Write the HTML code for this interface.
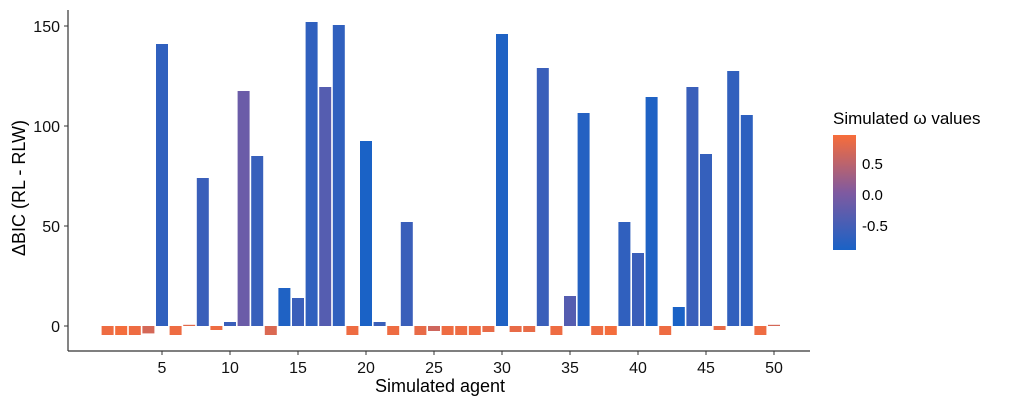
<!DOCTYPE html>
<html><head><meta charset="utf-8"><style>
html,body{margin:0;padding:0;background:#fff;}
svg{display:block;font-family:"Liberation Sans",sans-serif;}
</style></head><body>
<svg id="chart" width="1019" height="403">
<defs><linearGradient id="lg" x1="0" y1="1" x2="0" y2="0">
<stop offset="0" stop-color="#1a62c6"/><stop offset="0.5" stop-color="#7f5aa0"/><stop offset="1" stop-color="#f76d3a"/></linearGradient></defs>
<g id="bars"></g>
<line x1="68" y1="351" x2="810" y2="351" stroke="#333" stroke-width="1.2"/>
<line x1="68" y1="10" x2="68" y2="351" stroke="#333" stroke-width="1.2"/>
<g id="xt"></g>
<g id="yt"></g>
<text x="440" y="392" font-size="18" text-anchor="middle" fill="#000">Simulated agent</text>
<text transform="translate(25,188) rotate(-90)" font-size="18" text-anchor="middle" fill="#000">ΔBIC (RL - RLW)</text>
<g>
<text x="833" y="124" font-size="17" fill="#000">Simulated ω values</text>
<rect x="833" y="135" width="23" height="115" fill="url(#lg)"/>
<g id="lt"></g>
</g>
</svg>
<script>
const agents=[];for(let i=1;i<=50;i++)agents.push(i);
const bicValues=[-4.5,-4.5,-4.5,-3.7,141,-4.5,0.6,74,-2,2,117.5,85,-4.5,19,14,152,119.5,150.5,-4.5,92.5,2,-4.5,52,-4.5,-2.5,-4.5,-4.5,-4.5,-3,146,-3,-3,129,-4.5,15,106.5,-4.5,-4.5,52,36.5,114.5,-4.5,9.5,119.5,86,-2,127.5,105.5,-4.5,0.6];
const omegaValues=[0.9,0.95,0.9,0.7,-0.7,0.9,0.8,-0.6,0.9,-0.6,-0.15,-0.62,0.75,-0.85,-0.6,-0.7,-0.35,-0.7,0.9,-0.9,-0.6,0.9,-0.6,0.85,0.65,0.9,0.9,0.9,0.85,-0.85,0.85,0.85,-0.6,0.9,-0.35,-0.8,0.9,0.95,-0.7,-0.6,-0.85,0.9,-0.9,-0.6,-0.65,0.85,-0.68,-0.72,0.9,0.7];
const xTicks=[5,10,15,20,25,30,35,40,45,50];
const yTicks=[0,50,100,150];
const legendTicks=[0.5,0.0,-0.5];
const legendLabels=["0.5","0.0","-0.5"];
const NS='http://www.w3.org/2000/svg';
const xS=a=>107.6+(a-1)*13.6;
const yS=v=>326-v*2;
const lY=v=>195-v*62;
function col(w){const t=Math.max(0,Math.min(1,(w+0.9)/1.87));
const lo=[26,98,198],mid=[127,90,160],hi=[247,109,58];let a,b,u;
if(t<0.5){a=lo;b=mid;u=t/0.5}else{a=mid;b=hi;u=(t-0.5)/0.5}
return 'rgb('+a.map((c,i)=>Math.round(c+(b[i]-c)*u)).join(',')+')';}
const g=document.getElementById('bars');
agents.forEach((a,i)=>{const v=bicValues[i];const r=document.createElementNS(NS,'rect');
const y0=yS(0),y1=yS(v);r.setAttribute('x',xS(a)-6);r.setAttribute('width',12);
r.setAttribute('y',Math.min(y0,y1));r.setAttribute('height',Math.max(0.8,Math.abs(y1-y0)));
r.setAttribute('fill',col(omegaValues[i]));


g.appendChild(r);});
const xt=document.getElementById('xt');
xTicks.forEach(t=>{const l=document.createElementNS(NS,'line');l.setAttribute('x1',xS(t));l.setAttribute('x2',xS(t));l.setAttribute('y1',351);l.setAttribute('y2',355);l.setAttribute('stroke','#333');


xt.appendChild(l);
const tx=document.createElementNS(NS,'text');tx.setAttribute('x',xS(t));tx.setAttribute('y',373);tx.setAttribute('font-size','16');tx.setAttribute('fill','#111');tx.setAttribute('text-anchor','middle');tx.textContent=t;


xt.appendChild(tx);});
const yt=document.getElementById('yt');
yTicks.forEach(t=>{const l=document.createElementNS(NS,'line');l.setAttribute('x1',64);l.setAttribute('x2',68);l.setAttribute('y1',yS(t));l.setAttribute('y2',yS(t));l.setAttribute('stroke','#333');


yt.appendChild(l);
const tx=document.createElementNS(NS,'text');tx.setAttribute('x',60);tx.setAttribute('y',yS(t)+6);tx.setAttribute('font-size','16');tx.setAttribute('fill','#111');tx.setAttribute('text-anchor','end');tx.textContent=t;


yt.appendChild(tx);});
const lt=document.getElementById('lt');
legendTicks.forEach((t,i)=>{
const tx=document.createElementNS(NS,'text');tx.setAttribute('x',862);tx.setAttribute('y',lY(t)+5);tx.setAttribute('font-size','15');tx.textContent=legendLabels[i];


lt.appendChild(tx);});
</script>
</body></html>
